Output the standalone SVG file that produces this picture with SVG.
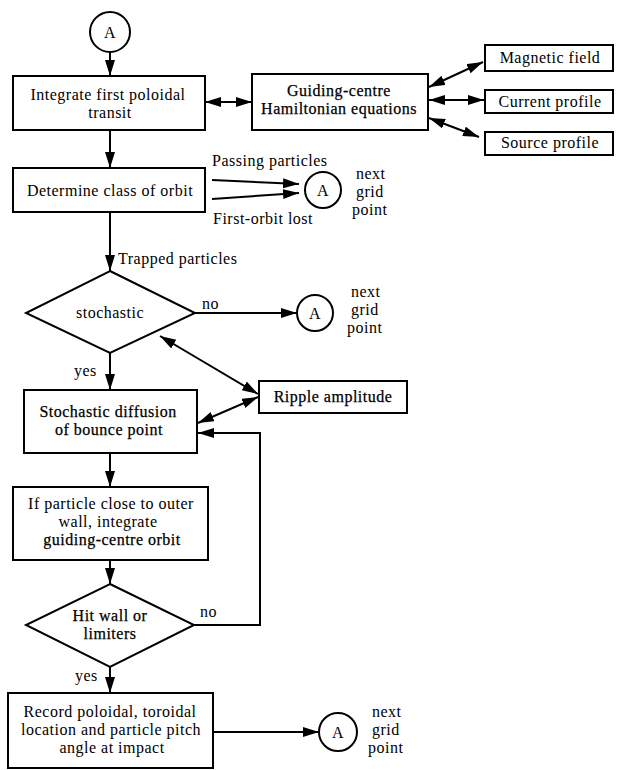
<svg xmlns="http://www.w3.org/2000/svg" width="617" height="770" viewBox="0 0 617 770" font-family="'Liberation Serif', 'DejaVu Serif', serif">
<style>
  text { font-family: 'Liberation Serif', 'Times New Roman', 'DejaVu Serif', serif; font-size: 16px; letter-spacing: 0.5px; fill: #000; }
  .c { text-anchor: middle; }
  .h { stroke: #000; stroke-width: 0.25px; }
  .box { fill: #fff; stroke: #000; stroke-width: 2; }
  .ln { fill: none; stroke: #000; stroke-width: 2; }
</style>
<defs>
  <marker id="ah" markerUnits="userSpaceOnUse" markerWidth="17" markerHeight="11" refX="16" refY="5" orient="auto-start-reverse" viewBox="0 0 17 11">
    <path d="M0,0 L16,5 L0,10 z" fill="#000"/>
  </marker>
</defs>
<rect width="617" height="770" fill="#fff"/>

<g id="connectors">
  <line class="ln" x1="110" y1="52" x2="110" y2="76" marker-end="url(#ah)"/>
  <line class="ln" x1="205" y1="102" x2="252" y2="102" marker-start="url(#ah)" marker-end="url(#ah)"/>
  <line class="ln" x1="429" y1="87" x2="483" y2="62" marker-start="url(#ah)" marker-end="url(#ah)"/>
  <line class="ln" x1="429" y1="100" x2="484" y2="100" marker-start="url(#ah)" marker-end="url(#ah)"/>
  <line class="ln" x1="429" y1="118" x2="479" y2="137" marker-start="url(#ah)" marker-end="url(#ah)"/>
  <line class="ln" x1="110" y1="130" x2="110" y2="168" marker-end="url(#ah)"/>
  <line class="ln" x1="212" y1="180" x2="299" y2="184" marker-end="url(#ah)"/>
  <line class="ln" x1="212" y1="199" x2="299" y2="193" marker-end="url(#ah)"/>
  <line class="ln" x1="110" y1="212" x2="110" y2="271" marker-end="url(#ah)"/>
  <line class="ln" x1="195" y1="313" x2="297" y2="313" marker-end="url(#ah)"/>
  <line class="ln" x1="110" y1="353" x2="110" y2="390" marker-end="url(#ah)"/>
  <line class="ln" x1="160" y1="336" x2="258" y2="394" marker-start="url(#ah)" marker-end="url(#ah)"/>
  <line class="ln" x1="198" y1="423" x2="258" y2="397" marker-start="url(#ah)" marker-end="url(#ah)"/>
  <line class="ln" x1="110" y1="453" x2="110" y2="487" marker-end="url(#ah)"/>
  <line class="ln" x1="110" y1="560" x2="110" y2="584" marker-end="url(#ah)"/>
  <polyline class="ln" points="194,625 260,625 260,433 198,433" marker-end="url(#ah)"/>
  <line class="ln" x1="110" y1="667" x2="110" y2="693" marker-end="url(#ah)"/>
  <line class="ln" x1="214" y1="732" x2="319" y2="732" marker-end="url(#ah)"/>
</g>

<g id="startA">
  <circle cx="110" cy="32" r="20" class="box"/>
  <text x="110" y="38" class="c">A</text>
</g>

<g id="integrate">
  <rect x="13" y="76" width="192" height="54" class="box"/>
  <text x="108" y="100" class="c">Integrate first poloidal</text>
  <text x="110" y="118" class="c">transit</text>
</g>

<g id="hamiltonian">
  <rect x="252" y="74" width="176" height="56" class="box"/>
  <text x="339" y="96" class="c h">Guiding-centre</text>
  <text x="339" y="114" class="c h">Hamiltonian equations</text>
</g>

<g id="magnetic">
  <rect x="485" y="45" width="128" height="26" class="box"/>
  <text x="550" y="63" class="c">Magnetic field</text>
</g>
<g id="current">
  <rect x="485" y="90" width="128" height="23" class="box"/>
  <text x="550" y="107" class="c">Current profile</text>
</g>
<g id="source">
  <rect x="485" y="132" width="128" height="23" class="box"/>
  <text x="550" y="148" class="c">Source profile</text>
</g>

<g id="determine">
  <rect x="13" y="168" width="192" height="44" class="box"/>
  <text x="110" y="196" class="c">Determine class of orbit</text>
</g>

<g id="labels-passing">
  <text x="212" y="166">Passing particles</text>
  <text x="213" y="224">First-orbit lost</text>
</g>

<g id="A1">
  <circle cx="323" cy="190" r="18" class="box"/>
  <text x="323" y="196" class="c">A</text>
  <text x="356" y="179">next</text>
  <text x="356" y="197">grid</text>
  <text x="352" y="215">point</text>
</g>

<g id="trapped-label">
  <text x="118" y="264">Trapped particles</text>
</g>

<g id="stochastic">
  <polygon points="110,271 195,313 110,353 26,313" class="box"/>
  <text x="110" y="318" class="c">stochastic</text>
  <text x="202" y="309">no</text>
  <text x="74" y="376">yes</text>
</g>

<g id="A2">
  <circle cx="315" cy="313" r="18" class="box"/>
  <text x="315" y="319" class="c">A</text>
  <text x="351" y="297">next</text>
  <text x="351" y="315">grid</text>
  <text x="347" y="333">point</text>
</g>

<g id="ripple">
  <rect x="259" y="381" width="148" height="32" class="box"/>
  <text x="333" y="402" class="c h">Ripple amplitude</text>
</g>

<g id="diffusion">
  <rect x="24" y="390" width="173" height="63" class="box"/>
  <text x="108" y="417" class="c h">Stochastic diffusion</text>
  <text x="109" y="435" class="c h">of bounce point</text>
</g>

<g id="integrate-orbit">
  <rect x="13" y="487" width="195" height="73" class="box"/>
  <text x="111" y="509" class="c">If particle close to outer</text>
  <text x="108" y="527" class="c">wall, integrate</text>
  <text x="112" y="545" class="c h">guiding-centre orbit</text>
</g>

<g id="hitwall">
  <polygon points="110,584 194,625 110,667 26,625" class="box"/>
  <text x="110" y="621" class="c h">Hit wall or</text>
  <text x="110" y="639" class="c h">limiters</text>
  <text x="200" y="617">no</text>
  <text x="75" y="681">yes</text>
</g>

<g id="record">
  <rect x="8" y="693" width="205" height="75" class="box"/>
  <text x="110" y="717" class="c">Record poloidal, toroidal</text>
  <text x="111" y="735" class="c">location and particle pitch</text>
  <text x="112" y="753" class="c">angle at impact</text>
</g>

<g id="A3">
  <circle cx="338" cy="732" r="19" class="box"/>
  <text x="338" y="738" class="c">A</text>
  <text x="372" y="717">next</text>
  <text x="372" y="735">grid</text>
  <text x="368" y="753">point</text>
</g>
</svg>
